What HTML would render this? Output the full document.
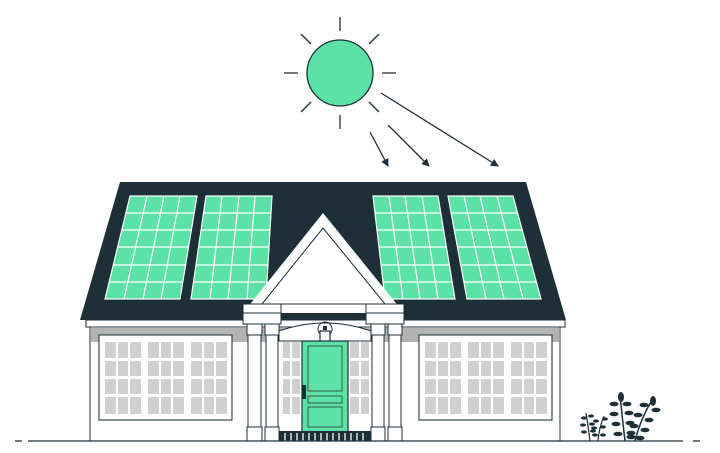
<!DOCTYPE html>
<html><head><style>html,body{margin:0;padding:0;background:#fff}svg{display:block}</style></head>
<body>
<svg width="720" height="453" viewBox="0 0 720 453" xmlns="http://www.w3.org/2000/svg">
<defs>
<marker id="ah" markerWidth="8" markerHeight="8" refX="7" refY="4" orient="auto" markerUnits="userSpaceOnUse"><path d="M0,0 L8,4 L0,8 Z" fill="#1d2f37"/></marker>
<clipPath id="pc">
<polygon points="130,196 197,196 180,299 105,299"/>
<polygon points="206,196 272,196 266,299 191,299"/>
<polygon points="373,196 438,196 455,299 385,299"/>
<polygon points="448,196 513,196 541,299 467,299"/>
</clipPath>
</defs>
<g stroke="#1d2f37" stroke-width="1.3" fill="none">
<circle cx="340" cy="73" r="33" fill="#5ce1a6"/>
<line x1="340" y1="17" x2="340" y2="31"/><line x1="340" y1="115" x2="340" y2="129"/>
<line x1="284" y1="73" x2="298" y2="73"/><line x1="382" y1="73" x2="396" y2="73"/>
<line x1="301" y1="34" x2="311" y2="44"/><line x1="369" y1="102" x2="379" y2="112"/>
<line x1="379" y1="34" x2="369" y2="44"/><line x1="311" y1="102" x2="301" y2="112"/>
<line x1="370" y1="132" x2="388" y2="166" marker-end="url(#ah)"/>
<line x1="388" y1="125" x2="429" y2="166" marker-end="url(#ah)"/>
<line x1="381" y1="93" x2="498" y2="166" marker-end="url(#ah)"/>
</g>
<polygon points="120,182 526,182 566,320 80,320" fill="#1d2f37"/>
<g fill="#5ce1a6" stroke="#fff" stroke-width="1.2">
<polygon points="130,196 197,196 180,299 105,299"/>
<polygon points="206,196 272,196 266,299 191,299"/>
<polygon points="373,196 438,196 455,299 385,299"/>
<polygon points="448,196 513,196 541,299 467,299"/>
</g>
<g stroke="#fff" stroke-width="1.2" clip-path="url(#pc)">
<line x1="147" y1="196" x2="124" y2="299"/><line x1="164" y1="196" x2="143" y2="299"/><line x1="180" y1="196" x2="161" y2="299"/>
<line x1="222" y1="196" x2="210" y2="299"/><line x1="239" y1="196" x2="228" y2="299"/><line x1="255" y1="196" x2="247" y2="299"/>
<line x1="389" y1="196" x2="403" y2="299"/><line x1="405" y1="196" x2="420" y2="299"/><line x1="422" y1="196" x2="438" y2="299"/>
<line x1="464" y1="196" x2="486" y2="299"/><line x1="480" y1="196" x2="504" y2="299"/><line x1="497" y1="196" x2="523" y2="299"/>
<line x1="80" y1="213" x2="560" y2="213"/><line x1="80" y1="230" x2="560" y2="230"/>
<line x1="80" y1="247" x2="560" y2="247"/><line x1="80" y1="265" x2="560" y2="265"/><line x1="80" y1="282" x2="560" y2="282"/>
</g>
<rect x="86" y="320" width="479" height="7" fill="#fff" stroke="#1d2f37" stroke-width="1"/>
<rect x="90" y="327" width="470" height="114" fill="#fff" stroke="#1d2f37" stroke-width="1"/>
<rect x="91" y="328" width="468" height="14" fill="#b3b3b3"/>
<g stroke="#3a4a50" stroke-width="1.2" fill="#fff">
<rect x="99" y="335" width="133" height="85"/>
<rect x="419" y="335" width="133" height="85"/>
</g>
<g fill="#d0d0d0">
<g id="wg">
<rect x="105" y="342" width="11" height="16"/><rect x="118" y="342" width="10" height="16"/><rect x="130" y="342" width="11" height="16"/>
<rect x="105" y="361" width="11" height="15"/><rect x="118" y="361" width="10" height="15"/><rect x="130" y="361" width="11" height="15"/>
<rect x="105" y="379" width="11" height="15"/><rect x="118" y="379" width="10" height="15"/><rect x="130" y="379" width="11" height="15"/>
<rect x="105" y="397" width="11" height="17"/><rect x="118" y="397" width="10" height="17"/><rect x="130" y="397" width="11" height="17"/>
</g>
<use href="#wg" x="43"/><use href="#wg" x="86"/>
<use href="#wg" x="320"/><use href="#wg" x="363"/><use href="#wg" x="406"/>
</g>
<rect x="279" y="340" width="92" height="91" fill="#fff"/>
<g fill="#d0d0d0">
<rect x="283" y="342" width="7" height="16"/><rect x="292" y="342" width="8" height="16"/><rect x="283" y="361" width="7" height="15"/><rect x="292" y="361" width="8" height="15"/><rect x="283" y="379" width="7" height="15"/><rect x="292" y="379" width="8" height="15"/><rect x="283" y="397" width="7" height="17"/><rect x="292" y="397" width="8" height="17"/>
<rect x="350" y="342" width="9" height="16"/><rect x="361" y="342" width="8" height="16"/><rect x="350" y="361" width="9" height="15"/><rect x="361" y="361" width="8" height="15"/><rect x="350" y="379" width="9" height="15"/><rect x="361" y="379" width="8" height="15"/><rect x="350" y="397" width="9" height="17"/><rect x="361" y="397" width="8" height="17"/>
</g>
<path d="M279,331 Q325,315 371,331 L371,341 L279,341 Z" fill="#fff" stroke="#1d2f37" stroke-width="1"/>
<polygon points="323,213 404,313 243,313" fill="#fff"/>
<polygon points="323,228 385,304 262,304" fill="#fff" stroke="#1d2f37" stroke-width="1"/>
<g fill="#fff" stroke="#1d2f37" stroke-width="1">
<rect x="243" y="304" width="38" height="9"/><rect x="243" y="313" width="38" height="11"/>
<rect x="366" y="304" width="38" height="9"/><rect x="366" y="313" width="38" height="11"/>
<rect x="247" y="324" width="15" height="11"/><rect x="248" y="335" width="13" height="92"/><rect x="247" y="427" width="15" height="14"/>
<rect x="265" y="324" width="14" height="11"/><rect x="266" y="335" width="12" height="92"/><rect x="265" y="427" width="14" height="14"/>
<rect x="371" y="324" width="14" height="11"/><rect x="372" y="335" width="12" height="92"/><rect x="371" y="427" width="14" height="14"/>
<rect x="388" y="324" width="14" height="11"/><rect x="389" y="335" width="12" height="92"/><rect x="388" y="427" width="14" height="14"/>
</g>
<circle cx="325" cy="329" r="7" fill="none" stroke="#1d2f37" stroke-width="1"/>
<rect x="320" y="331" width="10" height="11" fill="#fff" stroke="#1d2f37" stroke-width="1.2"/>
<rect x="323" y="326" width="4" height="4" fill="#1d2f37"/>
<rect x="302" y="341" width="46" height="92" fill="#5ce1a6" stroke="#1d2f37" stroke-width="1.2"/>
<g fill="none" stroke="#2e5c4a" stroke-width="1"><rect x="308" y="346" width="34" height="45"/><rect x="308" y="396" width="34" height="7"/><rect x="308" y="407" width="34" height="20"/></g>
<rect x="302" y="385" width="4" height="14" fill="#1d2f37"/>
<rect x="279" y="431" width="92" height="10" fill="#1d2f37"/>
<g stroke="#fff" stroke-width="1.3"><path d="M285,433v8M291,433v8M297,433v8M303,433v8M309,433v8M315,433v8M321,433v8M327,433v8M333,433v8M339,433v8M345,433v8M351,433v8M357,433v8M363,433v8"/></g>
<line x1="28" y1="441" x2="683" y2="441" stroke="#1d2f37" stroke-width="1.3"/>
<line x1="15" y1="441" x2="22" y2="441" stroke="#1d2f37" stroke-width="1.3"/>
<line x1="693" y1="441" x2="700" y2="441" stroke="#1d2f37" stroke-width="1.3"/>
<g fill="#1d2f37" stroke="#1d2f37">
<path d="M590,441 Q588,425 586,413" fill="none" stroke-width="1.2"/>
<path d="M598,441 Q599,428 604,416" fill="none" stroke-width="1.2"/>
<path d="M625,441 Q622,415 620,395" fill="none" stroke-width="1.5"/>
<path d="M635,441 Q640,420 652,400" fill="none" stroke-width="1.5"/>
<g stroke="none">
<ellipse cx="584" cy="418" rx="3" ry="1.6"/><ellipse cx="591" cy="416" rx="3" ry="1.6"/><ellipse cx="583" cy="425" rx="3" ry="1.6"/><ellipse cx="592" cy="424" rx="3" ry="1.6"/><ellipse cx="584" cy="432" rx="3" ry="1.6"/><ellipse cx="593" cy="431" rx="3" ry="1.6"/>
<ellipse cx="596" cy="421" rx="3" ry="1.6"/><ellipse cx="605" cy="419" rx="3" ry="1.6"/><ellipse cx="594" cy="428" rx="3" ry="1.6"/><ellipse cx="603" cy="427" rx="3" ry="1.6"/><ellipse cx="595" cy="435" rx="3" ry="1.6"/><ellipse cx="603" cy="435" rx="3" ry="1.6"/>
<ellipse cx="621" cy="397" rx="3" ry="5"/><ellipse cx="614" cy="404" rx="4.5" ry="2.3"/><ellipse cx="627" cy="404" rx="4.5" ry="2.3"/><ellipse cx="614" cy="414" rx="4.5" ry="2.3"/><ellipse cx="629" cy="413" rx="4.5" ry="2.3"/><ellipse cx="616" cy="424" rx="4.5" ry="2.3"/><ellipse cx="630" cy="423" rx="4.5" ry="2.3"/><ellipse cx="618" cy="434" rx="4.5" ry="2.3"/><ellipse cx="631" cy="433" rx="4.5" ry="2.3"/>
<ellipse cx="653" cy="401" rx="3" ry="5"/><ellipse cx="644" cy="405" rx="4.5" ry="2.3"/><ellipse cx="656" cy="410" rx="4.5" ry="2.3"/><ellipse cx="638" cy="415" rx="4.5" ry="2.3"/><ellipse cx="649" cy="420" rx="4.5" ry="2.3"/><ellipse cx="634" cy="426" rx="4.5" ry="2.3"/><ellipse cx="645" cy="430" rx="4.5" ry="2.3"/><ellipse cx="631" cy="437" rx="4.5" ry="2.3"/><ellipse cx="640" cy="438" rx="4.5" ry="2.3"/>
</g>
</g>
</svg>
</body></html>
